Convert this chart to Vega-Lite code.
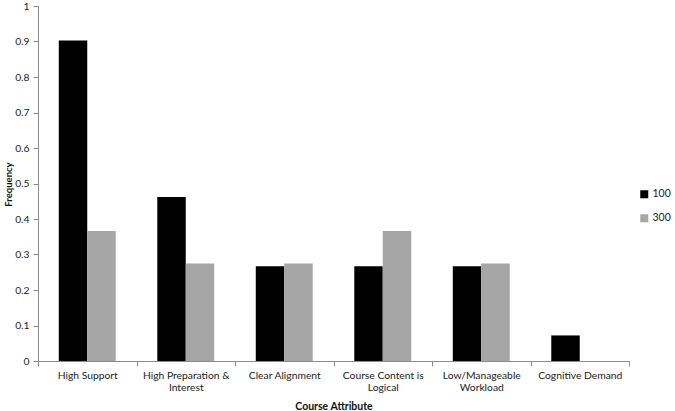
{
  "$schema": "https://vega.github.io/schema/vega-lite/v6.json",
  "autosize": {"type": "none"},
  "width": 591,
  "height": 355,
  "padding": {"left": 38, "top": 6, "right": 46, "bottom": 50},
  "background": "white",
  "config": {
    "font": "Lato",
    "view": {"stroke": null},
    "axis": {"labelFont": "Lato", "titleFont": "Lato", "labelColor": "#222", "titleColor": "#111", "domainColor": "#8c8c8c", "tickColor": "#8c8c8c", "grid": false}
  },
  "data": {
    "values": [
      {"attribute": "High Support", "course": "100", "frequency": 0.903},
      {"attribute": "High Support", "course": "300", "frequency": 0.366},
      {"attribute": "High Preparation & Interest", "course": "100", "frequency": 0.462},
      {"attribute": "High Preparation & Interest", "course": "300", "frequency": 0.275},
      {"attribute": "Clear Alignment", "course": "100", "frequency": 0.267},
      {"attribute": "Clear Alignment", "course": "300", "frequency": 0.275},
      {"attribute": "Course Content is Logical", "course": "100", "frequency": 0.267},
      {"attribute": "Course Content is Logical", "course": "300", "frequency": 0.366},
      {"attribute": "Low/Manageable Workload", "course": "100", "frequency": 0.267},
      {"attribute": "Low/Manageable Workload", "course": "300", "frequency": 0.275},
      {"attribute": "Cognitive Demand", "course": "100", "frequency": 0.072}
    ]
  },
  "mark": {"type": "bar"},
  "encoding": {
    "x": {
      "field": "attribute",
      "type": "nominal",
      "sort": null,
      "scale": {"paddingInner": 0, "paddingOuter": 0},
      "axis": {
        "title": "Course Attribute",
        "titleFontSize": 10.5,
        "titleFontWeight": "bold",
        "titleY": 45,
        "titleBaseline": "middle",
        "labelAngle": 0,
        "labelFontSize": 10.3,
        "labelPadding": 4,
        "labelLineHeight": 12.5,
        "tickBand": "extent",
        "tickSize": 5,
        "labelExpr": "datum.label == 'High Preparation & Interest' ? ['High Preparation &', 'Interest'] : datum.label == 'Course Content is Logical' ? ['Course Content is', 'Logical'] : datum.label == 'Low/Manageable Workload' ? ['Low/Manageable', 'Workload'] : datum.label"
      }
    },
    "xOffset": {
      "field": "course",
      "type": "nominal",
      "scale": {"paddingInner": 0, "paddingOuter": 0.73}
    },
    "y": {
      "field": "frequency",
      "type": "quantitative",
      "scale": {"domain": [0, 1], "nice": false},
      "axis": {
        "title": "Frequency",
        "titleFontSize": 9.5,
        "titleFontWeight": "bold",
        "titleX": -30,
        "titleY": 178,
        "titleBaseline": "middle",
        "values": [0, 0.1, 0.2, 0.3, 0.4, 0.5, 0.6, 0.7, 0.8, 0.9, 1],
        "labelExpr": "format(datum.value, '~g')",
        "labelFontSize": 10.3,
        "labelPadding": 4,
        "tickSize": 5,
        "labelFlush": false
      }
    },
    "color": {
      "field": "course",
      "type": "nominal",
      "scale": {"domain": ["100", "300"], "range": ["#000000", "#a6a6a6"]},
      "legend": {
        "title": null,
        "orient": "none",
        "legendX": 601,
        "legendY": 183,
        "symbolType": "square",
        "symbolSize": 64,
        "symbolStrokeWidth": 0,
        "labelFontSize": 10.5,
        "labelColor": "#222",
        "labelOffset": 3,
        "rowPadding": 13
      }
    }
  }
}
